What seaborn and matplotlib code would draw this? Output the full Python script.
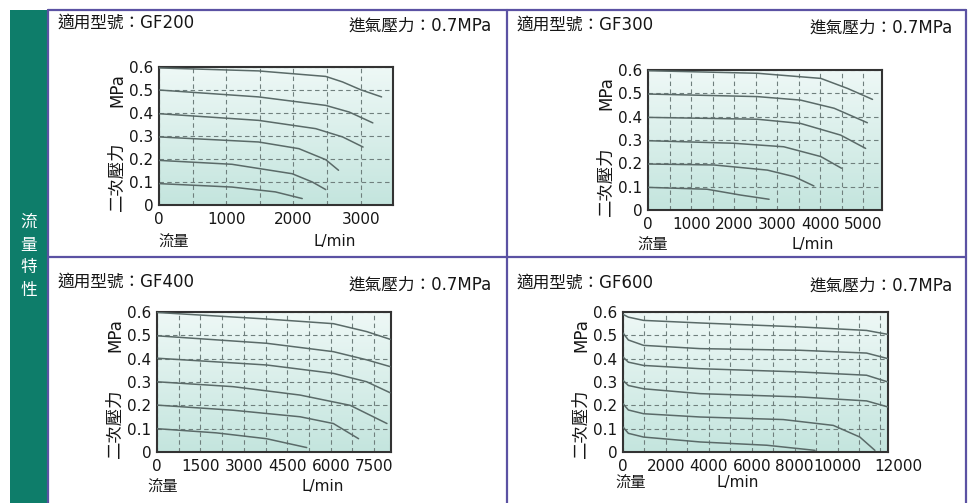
import numpy as np
import pandas as pd
import matplotlib
matplotlib.use("Agg")
import matplotlib.pyplot as plt
import seaborn as sns
from matplotlib.colors import LinearSegmentedColormap
from matplotlib.patches import Rectangle
from matplotlib.lines import Line2D
from matplotlib.transforms import offset_copy

sns.set_theme(style="white")
plt.rcParams["font.family"] = ["DejaVu Sans", "Noto Sans CJK TC"]

# --- data (flow L/min, secondary pressure MPa) ---
models = ["GF200", "GF300", "GF400", "GF600"]
inlet_pressure = "0.7MPa"
y_ticks = [0, 0.1, 0.2, 0.3, 0.4, 0.5, 0.6]
y_ticklabels = ["0", "0.1", "0.2", "0.3", "0.4", "0.5", "0.6"]

gf200_x = [[0, 1480, 2480, 2730, 3000, 3310],
           [0, 1480, 2480, 2830, 3180],
           [0, 1480, 2330, 2730, 3035],
           [0, 1480, 2080, 2480, 2670],
           [0, 1085, 1980, 2280, 2480],
           [0, 1085, 1730, 2130]]
gf200_y = [[0.596, 0.583, 0.559, 0.535, 0.501, 0.47],
           [0.50, 0.47, 0.433, 0.404, 0.357],
           [0.397, 0.368, 0.332, 0.296, 0.252],
           [0.296, 0.274, 0.245, 0.197, 0.151],
           [0.194, 0.177, 0.136, 0.10, 0.067],
           [0.093, 0.078, 0.057, 0.028]]

gf300_x = [[0, 2535, 4010, 4630, 5210],
           [0, 2535, 3540, 4320, 5090],
           [0, 2535, 3540, 4470, 5050],
           [0, 1990, 3150, 4010, 4490],
           [0, 1530, 2770, 3390, 3850],
           [0, 1370, 2150, 2810]]
gf300_y = [[0.597, 0.586, 0.564, 0.521, 0.474],
           [0.497, 0.486, 0.471, 0.436, 0.374],
           [0.397, 0.389, 0.371, 0.321, 0.264],
           [0.297, 0.286, 0.271, 0.229, 0.179],
           [0.197, 0.193, 0.171, 0.143, 0.103],
           [0.097, 0.089, 0.064, 0.046]]

gf400_x = [[0, 3780, 6090, 7240, 8050],
           [0, 3780, 6090, 7240, 8050],
           [0, 3780, 6090, 7240, 8050],
           [0, 2630, 4940, 6670, 7940],
           [0, 2630, 4940, 6090, 6960],
           [0, 2050, 3780, 5170]]
gf400_y = [[0.598, 0.57, 0.55, 0.516, 0.483],
           [0.498, 0.466, 0.43, 0.395, 0.366],
           [0.402, 0.373, 0.337, 0.301, 0.254],
           [0.301, 0.28, 0.244, 0.20, 0.122],
           [0.201, 0.179, 0.151, 0.122, 0.057],
           [0.10, 0.082, 0.057, 0.019]]

gf600_x = [[0, 250, 960, 3600, 8250, 11350, 12350],
           [0, 250, 960, 3600, 8250, 11350, 12350],
           [0, 250, 960, 3600, 8250, 11350, 12350],
           [0, 250, 960, 3600, 8250, 11350, 12350],
           [0, 250, 960, 3600, 7470, 9800, 11040, 11740],
           [0, 250, 960, 3600, 6700, 8950]]
gf600_y = [[0.59, 0.578, 0.564, 0.553, 0.536, 0.521, 0.504],
           [0.51, 0.48, 0.457, 0.443, 0.436, 0.424, 0.40],
           [0.407, 0.385, 0.371, 0.357, 0.343, 0.329, 0.30],
           [0.307, 0.285, 0.271, 0.25, 0.236, 0.219, 0.193],
           [0.207, 0.18, 0.164, 0.15, 0.139, 0.114, 0.064, 0.007],
           [0.107, 0.08, 0.064, 0.043, 0.029, 0.007]]

curves_x = [gf200_x, gf300_x, gf400_x, gf600_x]
curves_y = [gf200_y, gf300_y, gf400_y, gf600_y]
x_max = [3480, 5430, 8080, 12350]
grid_step = [500, 500, 750, 1000]
label_step = [1000, 1000, 1500, 2000]
label_max = [3000, 5000, 7500, 12000]

# --- layout in pixels of the 980x503 picture ---
W, H = 980, 503
# axes box: left, top, right, bottom
boxes = [(159, 67, 393, 205), (648, 70, 882, 210),
         (157, 312, 391, 452), (623, 312, 888, 452)]
panel_left = [58, 517, 58, 517]
panel_right = [492, 953, 492, 953]
header_y = [23, 25, 282, 283]
xlab_dx = [(15, 176), (5, 165), (6, 166), (8, 115)]
xlab_dy = [37, 35, 35, 31]

green = "#0e7d6a"
purple = "#5b52a3"
curve_col = "#5a6a68"
grid_col = "#6f7f7d"
text_col = "#161616"
bg_cmap = LinearSegmentedColormap.from_list("bg", ["#c4e5de", "#eef8f6"])


def fx(px):
    return px / W


def fy(py):
    return 1 - py / H


fig = plt.figure(figsize=(9.8, 5.03), dpi=100)

# green side band and purple frame
fig.patches.append(Rectangle((fx(10), 0), fx(38), fy(10), transform=fig.transFigure,
                             facecolor=green, edgecolor="none", zorder=0))
for xs, ys in [([48, 966], [10, 10]), ([48, 966], [257, 257]),
               ([48, 48], [10, 503]), ([507, 507], [10, 503]), ([966, 966], [10, 503])]:
    fig.add_artist(Line2D([fx(v) for v in xs], [fy(v) for v in ys],
                          transform=fig.transFigure, color=purple, lw=1.6))
fig.text(fx(29), fy(256), "流\n量\n特\n性", ha="center", va="center", color="white",
         fontsize=12, linespacing=1.35)

for i, model in enumerate(models):
    l, t, r, b = boxes[i]
    ax = fig.add_axes([fx(l), fy(b), fx(r - l), (b - t) / H])

    ax.imshow(np.linspace(0, 1, 100)[:, None], extent=[0, 1, 0, 1], origin="lower",
              transform=ax.transAxes, aspect="auto", cmap=bg_cmap, zorder=0)

    rows = []
    for k, (xs, ys) in enumerate(zip(curves_x[i], curves_y[i])):
        for xv, yv in zip(xs, ys):
            rows.append({"curve": k, "flow": xv, "pressure": yv})
    df = pd.DataFrame(rows)
    sns.lineplot(data=df, x="flow", y="pressure", units="curve", estimator=None,
                 color=curve_col, lw=1.1, ax=ax, zorder=3)

    ax.set_xlim(0, x_max[i])
    ax.set_ylim(0, 0.6)
    ax.set_xticks(np.arange(0, x_max[i], grid_step[i])[1:], minor=True)
    ax.set_xticks(np.arange(0, label_max[i] + 1, label_step[i]))
    ax.set_yticks(y_ticks)
    ax.set_yticklabels(y_ticklabels)
    ax.grid(True, which="both", axis="x", ls=(0, (4, 3)), color=grid_col, lw=0.8, zorder=1)
    ax.grid(True, which="major", axis="y", ls=(0, (4, 3)), color=grid_col, lw=0.8, zorder=1)
    ax.tick_params(which="both", length=0, labelsize=11, colors=text_col)
    ax.tick_params(axis="x", pad=5)
    ax.tick_params(axis="y", pad=4)
    ax.set_xlabel("")
    ax.set_ylabel("")
    for s in ax.spines.values():
        s.set_color("#333333")
        s.set_linewidth(1.5)
        s.set_visible(True)

    if i == 3:
        # last label sits right of its gridline, as in the original
        last = ax.get_xticklabels()[-1]
        last.set_horizontalalignment("left")
        last.set_transform(offset_copy(last.get_transform(), fig=fig, x=-6, units="dots"))

    # axis captions
    fig.text(fx(l - 42), fy(t + 23), "MPa", rotation=90, ha="center", va="center",
             fontsize=12, color=text_col)
    fig.text(fx(l - 42), fy(b - 28), "二次壓力", rotation=90, ha="center", va="center",
             fontsize=12.5, color=text_col)
    fig.text(fx(l + xlab_dx[i][0]), fy(b + xlab_dy[i]), "流量", ha="center", va="center",
             fontsize=11, color=text_col)
    fig.text(fx(l + xlab_dx[i][1]), fy(b + xlab_dy[i]), "L/min", ha="center", va="center",
             fontsize=11, color=text_col)

    # panel headers
    fig.text(fx(panel_left[i]), fy(header_y[i]), "適用型號：" + model, ha="left", va="center",
             fontsize=12, color=text_col)
    fig.text(fx(panel_right[i]), fy(header_y[i] + 3), "進氣壓力：" + inlet_pressure,
             ha="right", va="center", fontsize=12, color=text_col)

fig.savefig("out.png", dpi=100)
